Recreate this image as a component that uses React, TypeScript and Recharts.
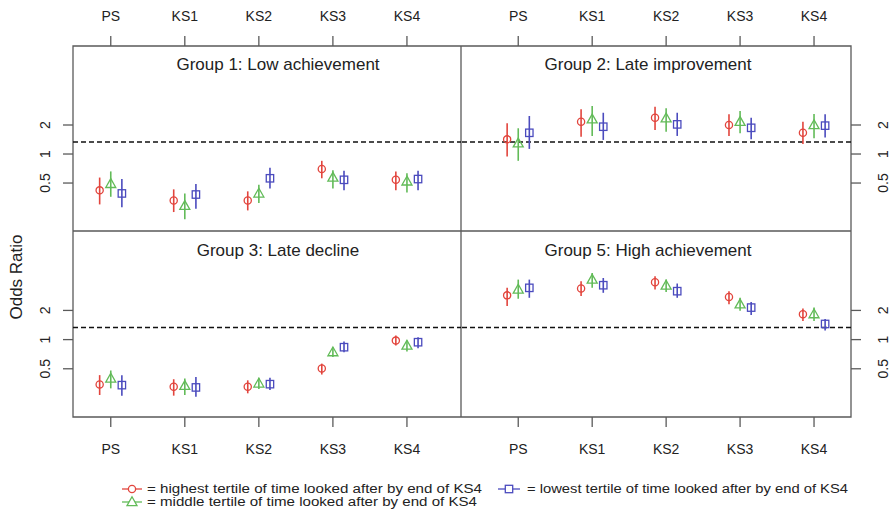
import React from 'react';
import { ScatterChart, Scatter, XAxis, YAxis, ErrorBar, ReferenceLine, ReferenceArea } from 'recharts';

const stages = ['PS', 'KS1', 'KS2', 'KS3', 'KS4'];
const yTicks = [0.5, 1, 2];
const refOdds = 1.33;
const yDomain = [0.159, 13.2];

// each entry: [estimate, lower, upper]
const g1High = [[0.42, 0.30, 0.57], [0.33, 0.25, 0.43], [0.33, 0.26, 0.41], [0.70, 0.56, 0.85], [0.54, 0.42, 0.66]];
const g1Mid = [[0.49, 0.36, 0.66], [0.29, 0.21, 0.39], [0.39, 0.31, 0.48], [0.57, 0.44, 0.68], [0.52, 0.40, 0.63]];
const g1Low = [[0.39, 0.28, 0.55], [0.38, 0.27, 0.49], [0.56, 0.44, 0.72], [0.54, 0.42, 0.67], [0.55, 0.42, 0.67]];

const g2High = [[1.42, 0.94, 2.08], [2.16, 1.51, 2.91], [2.38, 1.78, 3.10], [2.00, 1.54, 2.58], [1.66, 1.27, 2.16]];
const g2Mid = [[1.29, 0.85, 1.85], [2.29, 1.54, 3.15], [2.35, 1.70, 2.98], [2.16, 1.64, 2.79], [2.00, 1.46, 2.60]];
const g2Low = [[1.66, 1.13, 2.48], [1.92, 1.40, 2.68], [2.03, 1.54, 2.68], [1.87, 1.42, 2.38], [1.97, 1.48, 2.58]];

const g3High = [[0.345, 0.268, 0.43], [0.326, 0.264, 0.39], [0.326, 0.279, 0.38], [0.503, 0.436, 0.565], [0.977, 0.87, 1.10]];
const g3Mid = [[0.397, 0.314, 0.48], [0.334, 0.268, 0.397], [0.353, 0.309, 0.403], [0.742, 0.66, 0.835], [0.87, 0.754, 0.977]];
const g3Low = [[0.339, 0.264, 0.43], [0.321, 0.258, 0.412], [0.347, 0.302, 0.403], [0.835, 0.742, 0.954], [0.94, 0.815, 1.06]];

const g5High = [[2.86, 2.22, 3.42], [3.37, 2.81, 4.00], [3.91, 3.29, 4.50], [2.75, 2.31, 3.16], [1.83, 1.56, 2.09]];
const g5Mid = [[3.29, 2.64, 4.16], [4.16, 3.42, 4.86], [3.62, 3.09, 4.16], [2.31, 1.98, 2.70], [1.83, 1.56, 2.14]];
const g5Low = [[3.42, 2.70, 4.16], [3.64, 3.04, 4.32], [3.16, 2.70, 3.79], [2.14, 1.79, 2.44], [1.45, 1.24, 1.63]];

const titles = ['Group 1: Low achievement', 'Group 2: Late improvement', 'Group 3: Late decline', 'Group 5: High achievement'];
const legendLabels = [
  '= highest tertile of time looked after by end of KS4',
  '= middle tertile of time looked after by end of KS4',
  '= lowest tertile of time looked after by end of KS4',
];

const RED = '#E2453D';
const GREEN = '#62BB58';
const BLUE = '#4B4BBE';
const FRAME = '#5a5a5a';
const FONT = '"Liberation Sans", Arial, Helvetica, sans-serif';

const OFFSET = 0.15;

function build(series: number[][], off: number) {
  return series.map((t, i) => ({ x: i + 1 + off, y: t[0], err: [t[0] - t[1], t[2] - t[0]] }));
}

const CircleShape = (p: any) => (
  <circle cx={p.cx} cy={p.cy} r={3.6} fill="none" stroke={RED} strokeWidth={1.3} />
);
const TriangleShape = (p: any) => (
  <path
    d={`M${p.cx},${p.cy - 5.2} L${p.cx + 5},${p.cy + 3.6} L${p.cx - 5},${p.cy + 3.6} Z`}
    fill="none"
    stroke={GREEN}
    strokeWidth={1.3}
  />
);
const SquareShape = (p: any) => (
  <rect x={p.cx - 3.7} y={p.cy - 3.7} width={7.4} height={7.4} fill="none" stroke={BLUE} strokeWidth={1.3} />
);

const XTick = (props: any) => {
  const { x, payload, labelY } = props;
  return (
    <text x={x} y={labelY} textAnchor="middle" dominantBaseline="central" fontSize={14} fontFamily={FONT} fill="#222">
      {stages[payload.value - 1]}
    </text>
  );
};

const YTick = (props: any) => {
  const { y, payload, labelX } = props;
  return (
    <text
      x={labelX}
      y={y}
      transform={`rotate(-90, ${labelX}, ${y})`}
      textAnchor="middle"
      dominantBaseline="central"
      fontSize={14}
      fontFamily={FONT}
      fill="#222"
    >
      {payload.value}
    </text>
  );
};

type PanelProps = {
  left: number;
  top: number;
  width: number;
  height: number;
  xOrient: 'top' | 'bottom';
  yOrient: 'left' | 'right';
  xAxisH: number;
  yAxisW: number;
  xDomain: number[];
  xLabelY: number;
  yLabelX: number;
  high: number[][];
  mid: number[][];
  low: number[][];
};

function Panel(p: PanelProps) {
  return (
    <div style={{ position: 'absolute', left: p.left, top: p.top }}>
      <ScatterChart width={p.width} height={p.height} margin={{ top: 0, right: 0, bottom: 0, left: 0 }}>
        <XAxis
          type="number"
          dataKey="x"
          domain={p.xDomain}
          allowDataOverflow
          ticks={[1, 2, 3, 4, 5]}
          interval={0}
          orientation={p.xOrient}
          height={p.xAxisH}
          axisLine={false}
          tickSize={10}
          tickLine={{ stroke: FRAME, strokeWidth: 1.3 }}
          tick={<XTick labelY={p.xLabelY} />}
        />
        <YAxis
          type="number"
          dataKey="y"
          scale="log"
          domain={yDomain}
          allowDataOverflow
          ticks={yTicks}
          interval={0}
          orientation={p.yOrient}
          width={p.yAxisW}
          axisLine={false}
          tickSize={10}
          tickLine={{ stroke: FRAME, strokeWidth: 1.3 }}
          tick={<YTick labelX={p.yLabelX} />}
        />
        <ReferenceArea
          x1={p.xDomain[0]}
          x2={p.xDomain[1]}
          y1={yDomain[0]}
          y2={yDomain[1]}
          fill="#fff"
          fillOpacity={0}
          stroke={FRAME}
          strokeWidth={1.3}
          ifOverflow="visible"
        />
        <ReferenceLine y={refOdds} stroke="#111" strokeDasharray="5 3" strokeWidth={1.5} />
        <Scatter data={build(p.high, -OFFSET)} shape={CircleShape} isAnimationActive={false}>
          <ErrorBar dataKey="err" direction="y" width={0} stroke={RED} strokeWidth={1.6} />
        </Scatter>
        <Scatter data={build(p.mid, 0)} shape={TriangleShape} isAnimationActive={false}>
          <ErrorBar dataKey="err" direction="y" width={0} stroke={GREEN} strokeWidth={1.6} />
        </Scatter>
        <Scatter data={build(p.low, OFFSET)} shape={SquareShape} isAnimationActive={false}>
          <ErrorBar dataKey="err" direction="y" width={0} stroke={BLUE} strokeWidth={1.6} />
        </Scatter>
      </ScatterChart>
    </div>
  );
}

const leftDomain = [0.49, 5.73];
const rightDomain = [0.226, 5.5];

export default function App() {
  return (
    <div style={{ position: 'absolute', left: 0, top: 0, width: 895, height: 517, background: '#fff' }}>
      <Panel left={0} top={0} width={461} height={231} xOrient="top" yOrient="left" xAxisH={46} yAxisW={73}
        xDomain={leftDomain} xLabelY={16} yLabelX={45} high={g1High} mid={g1Mid} low={g1Low} />
      <Panel left={461} top={0} width={434} height={231} xOrient="top" yOrient="right" xAxisH={46} yAxisW={44}
        xDomain={rightDomain} xLabelY={16} yLabelX={422} high={g2High} mid={g2Mid} low={g2Low} />
      <Panel left={0} top={231} width={461} height={226} xOrient="bottom" yOrient="left" xAxisH={40} yAxisW={73}
        xDomain={leftDomain} xLabelY={218} yLabelX={45} high={g3High} mid={g3Mid} low={g3Low} />
      <Panel left={461} top={231} width={434} height={226} xOrient="bottom" yOrient="right" xAxisH={40} yAxisW={44}
        xDomain={rightDomain} xLabelY={218} yLabelX={422} high={g5High} mid={g5Mid} low={g5Low} />
      <svg width={895} height={517} style={{ position: 'absolute', left: 0, top: 0, pointerEvents: 'none' }}>
        <g fontFamily={FONT} fill="#222">
          <text x={278} y={64} fontSize={17} textAnchor="middle" dominantBaseline="central">{titles[0]}</text>
          <text x={648} y={64} fontSize={17} textAnchor="middle" dominantBaseline="central">{titles[1]}</text>
          <text x={278} y={250} fontSize={17} textAnchor="middle" dominantBaseline="central">{titles[2]}</text>
          <text x={648} y={250} fontSize={17} textAnchor="middle" dominantBaseline="central">{titles[3]}</text>
          <text x={16} y={277} fontSize={17} textAnchor="middle" dominantBaseline="central" transform="rotate(-90, 16, 277)">Odds Ratio</text>
        </g>
        <g>
          <line x1={122} x2={142} y1={489} y2={489} stroke={RED} strokeWidth={1.3} />
          <circle cx={132} cy={489} r={3.6} fill="#fff" stroke={RED} strokeWidth={1.3} />
          <line x1={122} x2={142} y1={502} y2={502} stroke={GREEN} strokeWidth={1.3} />
          <path d="M132,496.8 L137,505.6 L127,505.6 Z" fill="#fff" stroke={GREEN} strokeWidth={1.3} />
          <line x1={498} x2={520} y1={489} y2={489} stroke={BLUE} strokeWidth={1.3} />
          <rect x={505.3} y={485.3} width={7.4} height={7.4} fill="#fff" stroke={BLUE} strokeWidth={1.3} />
        </g>
        <g fontFamily={FONT} fill="#222" fontSize={12.5}>
          <text x={147} y={489} dominantBaseline="central" textLength={335} lengthAdjust="spacingAndGlyphs">{legendLabels[0]}</text>
          <text x={147} y={502} dominantBaseline="central" textLength={330} lengthAdjust="spacingAndGlyphs">{legendLabels[1]}</text>
          <text x={527} y={489} dominantBaseline="central" textLength={321} lengthAdjust="spacingAndGlyphs">{legendLabels[2]}</text>
        </g>
      </svg>
    </div>
  );
}
